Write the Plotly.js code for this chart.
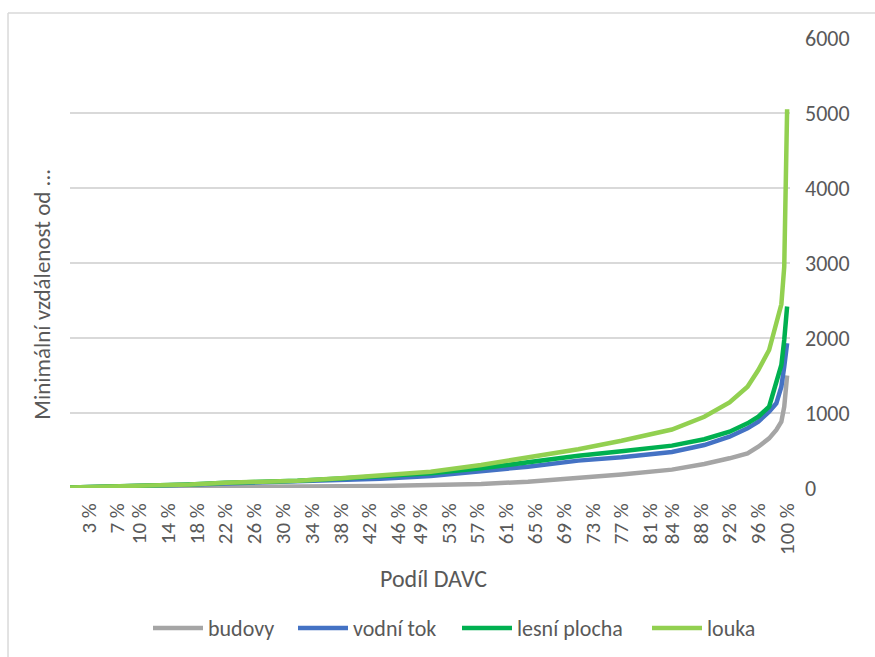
<!DOCTYPE html>
<html>
<head>
<meta charset="utf-8">
<script src="https://cdn.plot.ly/plotly-3.0.1.min.js"></script>
<style>
  html, body { margin: 0; padding: 0; background: #ffffff; }
  #chart { width: 875px; height: 657px; }
</style>
</head>
<body>
<div id="chart"></div>
<script>
// Share of DAVC (%) at which each distance was sampled
const share = [0.4, 6, 11.5, 17, 22, 27.5, 32, 38, 43.5, 50.5, 57.5, 64, 71, 77, 84, 88.5, 92, 94.5, 96, 97.5, 98.5, 99.2, 99.6, 99.85, 100];

// Minimum distance to each feature type
const budovy      = [3, 4, 5, 7, 10, 13, 17, 22, 27, 36, 53, 84, 129, 180, 245, 320, 396, 462, 551, 662, 773, 884, 1084, 1300, 1500];
const vodniTok    = [8, 17, 28, 42, 60, 73, 86, 103, 125, 160, 218, 284, 365, 410, 480, 573, 684, 796, 884, 1018, 1129, 1351, 1618, 1800, 1930];
const lesniPlocha = [8, 18, 30, 48, 70, 84, 97, 128, 160, 195, 262, 345, 430, 490, 565, 650, 751, 862, 951, 1084, 1440, 1640, 1973, 2200, 2420];
const louka       = [8, 18, 31, 48, 71, 85, 98, 130, 173, 218, 307, 409, 516, 630, 780, 950, 1140, 1351, 1573, 1840, 2200, 2450, 2950, 4700, 5050];

// Category labels shown along the x axis
const shareTicks = [3, 7, 10, 14, 18, 22, 26, 30, 34, 38, 42, 46, 49, 53, 57, 61, 65, 69, 73, 77, 81, 84, 88, 92, 96, 100];
const shareTickText = shareTicks.map(v => v + ' %');

const seriesNames  = ['budovy', 'vodní tok', 'lesní plocha', 'louka'];
const seriesValues = [budovy, vodniTok, lesniPlocha, louka];
const seriesColors = ['#A5A5A5', '#4472C4', '#00B050', '#92D050'];

const FONT = 'Carlito, Calibri, "Open Sans", "Noto Sans", sans-serif';
const TEXT = '#595959';

// one legend per series so the entries can be spaced along the bottom
const legendIds  = ['legend', 'legend2', 'legend3', 'legend4'];
const legendLeft = [148, 293, 457, 647];

const traces = seriesNames.map((name, i) => ({
  type: 'scatter',
  mode: 'lines',
  name: name,
  legend: legendIds[i],
  x: share,
  y: seriesValues[i],
  line: { color: seriesColors[i], width: 4.5 },
  hoverinfo: 'x+y+name'
}));

const layout = {
  width: 875,
  height: 657,
  paper_bgcolor: '#ffffff',
  plot_bgcolor: '#ffffff',
  font: { family: FONT, color: TEXT, size: 21 },
  margin: { l: 70, r: 85, t: 38, b: 169, pad: 0, autoexpand: false },
  showlegend: true,
  xaxis: {
    type: 'linear',
    range: [0.4, 100.4],
    tickmode: 'array',
    tickvals: shareTicks,
    ticktext: shareTickText,
    tickangle: -90,
    tickfont: { family: FONT, color: TEXT, size: 21 },
    ticks: '',
    ticklabelstandoff: 10,
    automargin: false,
    showgrid: false,
    zeroline: false,
    showline: false,
    fixedrange: true
  },
  yaxis: {
    side: 'right',
    range: [0, 6000],
    tickmode: 'linear',
    tick0: 0,
    dtick: 1000,
    tickfont: { family: FONT, color: TEXT, size: 22 },
    ticks: '',
    ticklabelstandoff: 14,
    automargin: false,
    showgrid: true,
    gridcolor: '#D9D9D9',
    gridwidth: 1.3,
    zeroline: false,
    showline: false,
    fixedrange: true
  },
  annotations: [
    {
      text: 'Minimální vzdálenost od ...',
      xref: 'paper', yref: 'paper',
      x: -0.04, y: 0.43,
      xanchor: 'center', yanchor: 'middle',
      textangle: -90,
      showarrow: false,
      font: { family: FONT, color: TEXT, size: 23 }
    },
    {
      text: 'Podíl DAVC',
      xref: 'paper', yref: 'paper',
      x: 0.505, y: -0.2,
      xanchor: 'center', yanchor: 'middle',
      showarrow: false,
      font: { family: FONT, color: TEXT, size: 24 }
    }
  ],
  shapes: [
    // chart frame (left and top edges)
    { type: 'line', xref: 'paper', yref: 'paper', x0: -0.0861, x1: -0.0861, y0: 1.0556, y1: -1,
      line: { color: '#D9D9D9', width: 1.5 } },
    { type: 'line', xref: 'paper', yref: 'paper', x0: -0.0861, x1: 2, y0: 1.0556, y1: 1.0556,
      line: { color: '#D9D9D9', width: 1.5 } }
  ]
};

legendIds.forEach((id, i) => {
  layout[id] = {
    orientation: 'h',
    xref: 'container', yref: 'container',
    x: legendLeft[i] / 875, xanchor: 'left',
    y: 0.044, yanchor: 'middle',
    font: { family: FONT, color: TEXT, size: 22 },
    itemwidth: 50,
    bgcolor: 'rgba(0,0,0,0)'
  };
});

Plotly.newPlot('chart', traces, layout, { staticPlot: true, displayModeBar: false });
</script>
</body>
</html>
